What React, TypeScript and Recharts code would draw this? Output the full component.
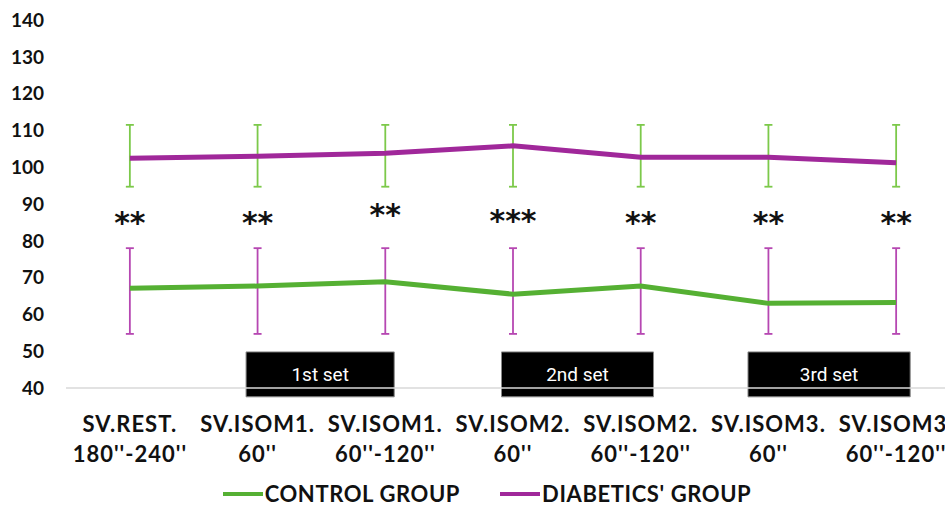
import {
  LineChart,
  Line,
  XAxis,
  YAxis,
  ErrorBar,
  ReferenceArea,
  ReferenceDot,
  Legend,
} from 'recharts'

const categories = [
  ['SV.REST.', "180''-240''"],
  ['SV.ISOM1.', "60''"],
  ['SV.ISOM1.', "60''-120''"],
  ['SV.ISOM2.', "60''"],
  ['SV.ISOM2.', "60''-120''"],
  ['SV.ISOM3.', "60''"],
  ['SV.ISOM3.', "60''-120''"],
]

const control = [67.1, 67.7, 68.9, 65.5, 67.7, 63.0, 63.2]
const diabetics = [102.4, 103.0, 103.8, 105.8, 102.7, 102.7, 101.2]

// error bar ends as drawn (lower end, upper end)
const controlBarLow = [54.7, 54.7, 54.7, 54.7, 54.7, 54.7, 54.7]
const controlBarHigh = [78, 78, 78, 78, 78, 78, 78]
const diabeticsBarLow = [94.7, 94.7, 94.7, 94.7, 94.7, 94.7, 94.7]
const diabeticsBarHigh = [111.5, 111.5, 111.5, 111.5, 111.5, 111.5, 111.5]

const stars = ['**', '**', '**', '***', '**', '**', '**']
const starLevel = [85.7, 85.7, 87.9, 86.5, 85.7, 85.7, 85.7]

const sets = [
  { label: '1st set', from: 0.91, to: 2.07 },
  { label: '2nd set', from: 2.91, to: 4.1 },
  { label: '3rd set', from: 4.84, to: 6.11 },
]

const yTicks = [40, 50, 60, 70, 80, 90, 100, 110, 120, 130, 140]

const GREEN = '#55b033'
const PURPLE = '#a0289a'
const BAR_GREEN = '#7cc94a'
const BAR_PURPLE = '#b647b2'
const FONT = 'Lato, "Open Sans", sans-serif'

const data = categories.map((c, i) => ({
  idx: i,
  control: control[i],
  diabetics: diabetics[i],
  controlErr: [control[i] - controlBarLow[i], controlBarHigh[i] - control[i]],
  diabeticsErr: [diabetics[i] - diabeticsBarLow[i], diabeticsBarHigh[i] - diabetics[i]],
}))

const CategoryTick = (props: any) => {
  const { x, y, payload } = props
  const lines = categories[payload.value] || ['', '']
  return (
    <g transform={`translate(${x},${y})`}>
      <text
        textAnchor="middle"
        fontFamily={FONT}
        fontWeight={700}
        fontSize={22}
        letterSpacing={1}
        fill="#111"
      >
        <tspan x={0} dy={36}>{lines[0]}</tspan>
        <tspan x={0} dy={30}>{lines[1]}</tspan>
      </text>
    </g>
  )
}

const LegendContent = () => (
  <div
    style={{
      position: 'relative',
      top: 8,
      display: 'flex',
      justifyContent: 'center',
      alignItems: 'center',
      gap: 40,
      fontFamily: FONT,
      fontWeight: 700,
      fontSize: 22,
      letterSpacing: 0.6,
      color: '#111',
      paddingLeft: 14,
    }}
  >
    {[
      { name: 'CONTROL GROUP', color: GREEN },
      { name: "DIABETICS' GROUP", color: PURPLE },
    ].map((item) => (
      <div key={item.name} style={{ display: 'flex', alignItems: 'center' }}>
        <span
          style={{ display: 'inline-block', width: 40, height: 4, background: item.color, marginRight: 2 }}
        />
        <span>{item.name}</span>
      </div>
    ))}
  </div>
)

export default function App() {
  return (
    <div
      style={{
        position: 'absolute',
        left: 0,
        top: 0,
        width: 945,
        height: 508,
        overflow: 'hidden',
        background: '#fff',
      }}
    >
      <LineChart width={960} height={508} data={data} margin={{ top: 20, right: 0, left: 0, bottom: 6 }}>
        <XAxis
          dataKey="idx"
          type="number"
          domain={[-0.5, 6.5]}
          ticks={[0, 1, 2, 3, 4, 5, 6]}
          interval={0}
          tick={<CategoryTick />}
          tickLine={false}
          axisLine={{ stroke: '#d9d9d9', strokeWidth: 1.5 }}
          height={84}
        />
        <YAxis
          domain={[40, 140]}
          ticks={yTicks}
          width={66}
          tickLine={false}
          axisLine={false}
          tickSize={18}
          tickMargin={4}
          tick={{ fontFamily: FONT, fontWeight: 700, fontSize: 19, fill: '#111' }}
        />
        {sets.map((s) => (
          <ReferenceArea
            key={s.label}
            x1={s.from}
            x2={s.to}
            y1={37.6}
            y2={49.8}
            ifOverflow="visible"
            fill="#000"
            fillOpacity={1}
            stroke="#888"
            strokeWidth={1}
            label={{
              value: s.label,
              position: 'center',
              fill: '#fff',
              fontSize: 19,
              fontFamily: 'Roboto, sans-serif',
            }}
          />
        ))}
        <Line
          dataKey="control"
          stroke={GREEN}
          strokeWidth={5}
          dot={false}
          activeDot={false}
          isAnimationActive={false}
        >
          <ErrorBar dataKey="controlErr" direction="y" stroke={BAR_PURPLE} strokeWidth={1.8} width={4} />
        </Line>
        <Line
          dataKey="diabetics"
          stroke={PURPLE}
          strokeWidth={5}
          dot={false}
          activeDot={false}
          isAnimationActive={false}
        >
          <ErrorBar dataKey="diabeticsErr" direction="y" stroke={BAR_GREEN} strokeWidth={1.8} width={4} />
        </Line>
        {stars.map((s, i) => (
          <ReferenceDot
            key={i}
            x={i}
            y={starLevel[i]}
            r={0}
            fill="none"
            stroke="none"
            label={{
              value: s,
              position: 'center',
              dy: 3,
              fill: '#111',
              fontSize: 30,
              fontWeight: 700,
              fontFamily: '"DejaVu Sans", sans-serif',
            }}
          />
        ))}
        <Legend verticalAlign="bottom" height={30} content={<LegendContent />} />
      </LineChart>
    </div>
  )
}
